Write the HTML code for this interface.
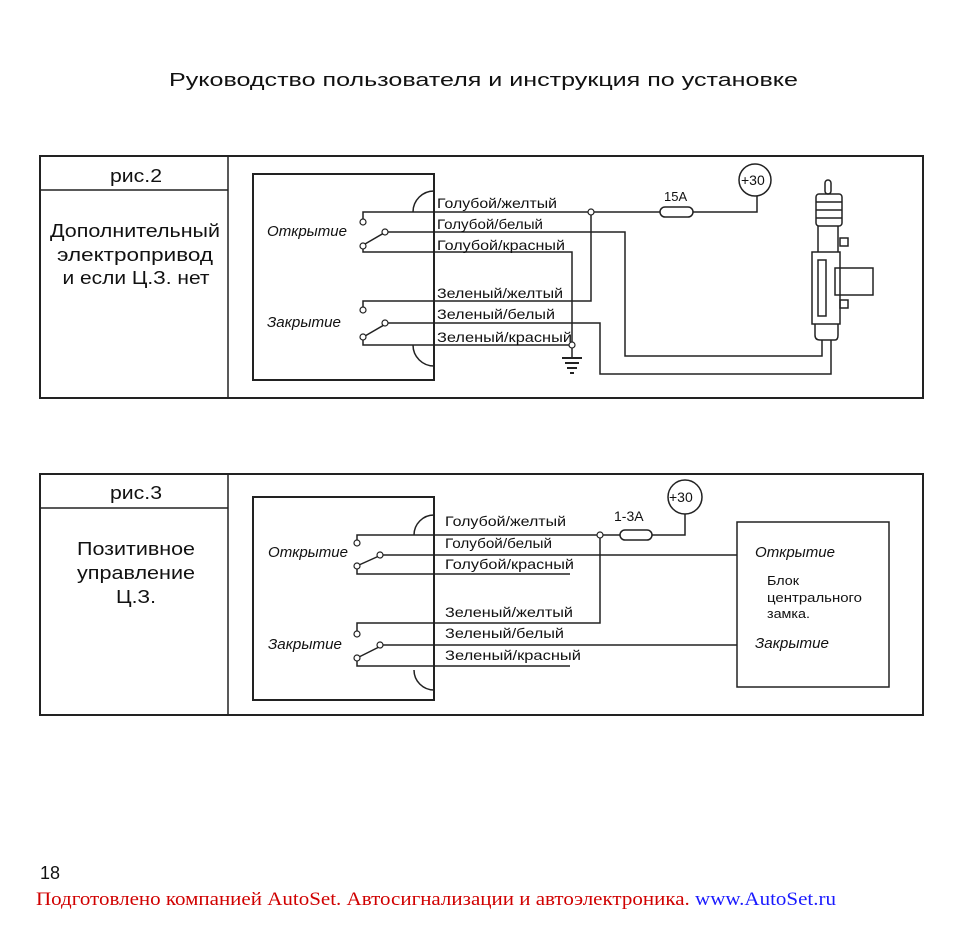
<!DOCTYPE html>
<html><head><meta charset="utf-8"><style>
html,body{margin:0;padding:0;background:#fff;}
svg{display:block;}
text{font-family:"Liberation Sans",sans-serif;fill:#111;}
</style></head><body>
<svg width="955" height="931" viewBox="0 0 955 931" xmlns="http://www.w3.org/2000/svg">
<text x="169" y="86" font-size="18" textLength="629" lengthAdjust="spacingAndGlyphs">Руководство пользователя и инструкция по установке</text>

<g fill="none" stroke="#222" stroke-width="1.5">
<rect x="40" y="156" width="883" height="242" stroke-width="2"/>
<line x1="228" y1="156" x2="228" y2="398"/>
<line x1="40" y1="190" x2="228" y2="190"/>
<rect x="253" y="174" width="181" height="206" stroke-width="2"/>
<path d="M434 191 A21 21 0 0 0 413 212"/>
<path d="M413 345 A21 21 0 0 0 434 366"/>
<path d="M363 219 V212 H591 M591 212 H660 M693 212 H757 V196"/>
<path d="M388 232 H625 V356 H822 V340"/>
<path d="M363 249 V252 H572 V342"/>
<path d="M363 307 V301 H591 V212"/>
<path d="M388 323 H600 V374 H831 V340"/>
<path d="M363 340 V345 H572"/>
<line x1="365" y1="244" x2="384" y2="233"/>
<line x1="365" y1="336" x2="384" y2="325"/>
<rect x="660" y="207" width="33" height="10" rx="5"/>
<circle cx="755" cy="180" r="16"/>
<line x1="572" y1="348" x2="572" y2="358"/>
<line x1="562" y1="358" x2="582" y2="358" stroke-width="2"/>
<line x1="565" y1="363" x2="579" y2="363" stroke-width="2"/>
<line x1="567" y1="368" x2="577" y2="368" stroke-width="2"/>
<line x1="570" y1="373" x2="574" y2="373" stroke-width="2"/>
<rect x="825" y="180" width="6" height="14" rx="3"/>
<rect x="816" y="194" width="26" height="32" rx="3"/>
<line x1="816" y1="202" x2="842" y2="202"/><line x1="816" y1="210" x2="842" y2="210"/><line x1="816" y1="218" x2="842" y2="218"/>
<path d="M818 226 V252 M838 226 V252"/>
<rect x="812" y="252" width="28" height="72"/>
<rect x="818" y="260" width="8" height="56"/>
<rect x="835" y="268" width="38" height="27"/>
<rect x="840" y="238" width="8" height="8"/>
<rect x="840" y="300" width="8" height="8"/>
<path d="M815 324 V335 Q815 340 820 340 H835 Q838 340 838 335 V324"/>
<rect x="40" y="474" width="883" height="241" stroke-width="2"/>
<line x1="228" y1="474" x2="228" y2="715"/>
<line x1="40" y1="508" x2="228" y2="508"/>
<rect x="253" y="497" width="181" height="203" stroke-width="2"/>
<path d="M434 515 A20 20 0 0 0 414 535"/>
<path d="M414 670 A20 20 0 0 0 434 690"/>
<path d="M357 540 V535 H620 M652 535 H685 V514"/>
<path d="M383 555 H737"/>
<path d="M357 569 V574 H570"/>
<path d="M357 631 V623 H600 V535"/>
<path d="M383 645 H737"/>
<path d="M357 661 V666 H570"/>
<line x1="359" y1="565" x2="379" y2="556"/>
<line x1="359" y1="657" x2="379" y2="647"/>
<rect x="620" y="530" width="32" height="10" rx="5"/>
<circle cx="685" cy="497" r="17"/>
<rect x="737" y="522" width="152" height="165"/>
</g>
<g fill="#fff" stroke="#222" stroke-width="1.2">
<circle cx="363" cy="222" r="3"/><circle cx="385" cy="232" r="3"/><circle cx="363" cy="246" r="3"/>
<circle cx="363" cy="310" r="3"/><circle cx="385" cy="323" r="3"/><circle cx="363" cy="337" r="3"/>
<circle cx="591" cy="212" r="3"/><circle cx="572" cy="345" r="3"/>
<circle cx="357" cy="543" r="3"/><circle cx="380" cy="555" r="3"/><circle cx="357" cy="566" r="3"/>
<circle cx="357" cy="634" r="3"/><circle cx="380" cy="645" r="3"/><circle cx="357" cy="658" r="3"/>
<circle cx="600" cy="535" r="3"/>
</g>

<g font-size="14">
<text x="437" y="208" textLength="120" lengthAdjust="spacingAndGlyphs">Голубой/желтый</text>
<text x="437" y="229" textLength="106" lengthAdjust="spacingAndGlyphs">Голубой/белый</text>
<text x="437" y="250" textLength="128" lengthAdjust="spacingAndGlyphs">Голубой/красный</text>
<text x="437" y="298" textLength="126" lengthAdjust="spacingAndGlyphs">Зеленый/желтый</text>
<text x="437" y="319" textLength="118" lengthAdjust="spacingAndGlyphs">Зеленый/белый</text>
<text x="437" y="342" textLength="135" lengthAdjust="spacingAndGlyphs">Зеленый/красный</text>
<text x="445" y="526" textLength="121" lengthAdjust="spacingAndGlyphs">Голубой/желтый</text>
<text x="445" y="548" textLength="107" lengthAdjust="spacingAndGlyphs">Голубой/белый</text>
<text x="445" y="569" textLength="129" lengthAdjust="spacingAndGlyphs">Голубой/красный</text>
<text x="445" y="617" textLength="128" lengthAdjust="spacingAndGlyphs">Зеленый/желтый</text>
<text x="445" y="638" textLength="119" lengthAdjust="spacingAndGlyphs">Зеленый/белый</text>
<text x="445" y="660" textLength="136" lengthAdjust="spacingAndGlyphs">Зеленый/красный</text>
</g>
<g font-size="15" font-style="italic">
<text x="267" y="236" textLength="80" lengthAdjust="spacingAndGlyphs">Открытие</text>
<text x="267" y="327" textLength="74" lengthAdjust="spacingAndGlyphs">Закрытие</text>
<text x="268" y="557" textLength="80" lengthAdjust="spacingAndGlyphs">Открытие</text>
<text x="268" y="649" textLength="74" lengthAdjust="spacingAndGlyphs">Закрытие</text>
<text x="755" y="557" textLength="80" lengthAdjust="spacingAndGlyphs">Открытие</text>
<text x="755" y="648" textLength="74" lengthAdjust="spacingAndGlyphs">Закрытие</text>
</g>
<g font-size="13">
<text x="664" y="201">15A</text>
<text x="741" y="185" font-size="14">+30</text>
<text x="614" y="521" font-size="14">1-3A</text>
<text x="669" y="502" font-size="14">+30</text>
<text x="767" y="585" textLength="32" lengthAdjust="spacingAndGlyphs">Блок</text>
<text x="767" y="602" textLength="95" lengthAdjust="spacingAndGlyphs">центрального</text>
<text x="767" y="618" textLength="43" lengthAdjust="spacingAndGlyphs">замка.</text>
</g>
<g font-size="18" text-anchor="middle">
<text x="136" y="182" textLength="52" lengthAdjust="spacingAndGlyphs">рис.2</text>
<text x="135" y="237" textLength="170" lengthAdjust="spacingAndGlyphs">Дополнительный</text>
<text x="135" y="261" textLength="156" lengthAdjust="spacingAndGlyphs">электропривод</text>
<text x="136" y="284" textLength="147" lengthAdjust="spacingAndGlyphs">и если Ц.З. нет</text>
<text x="136" y="499" textLength="52" lengthAdjust="spacingAndGlyphs">рис.3</text>
<text x="136" y="555" textLength="118" lengthAdjust="spacingAndGlyphs">Позитивное</text>
<text x="136" y="579" textLength="118" lengthAdjust="spacingAndGlyphs">управление</text>
<text x="136" y="603" textLength="40" lengthAdjust="spacingAndGlyphs">Ц.З.</text>
</g>
<text x="40" y="879" font-size="18">18</text>
<text x="36" y="905" font-size="19" textLength="800" lengthAdjust="spacingAndGlyphs" style="font-family:'Liberation Serif',serif;fill:#d00000">Подготовлено компанией AutoSet. Автосигнализации и автоэлектроника. <tspan style="fill:#1a1aff">www.AutoSet.ru</tspan></text>
</svg>
</body></html>
